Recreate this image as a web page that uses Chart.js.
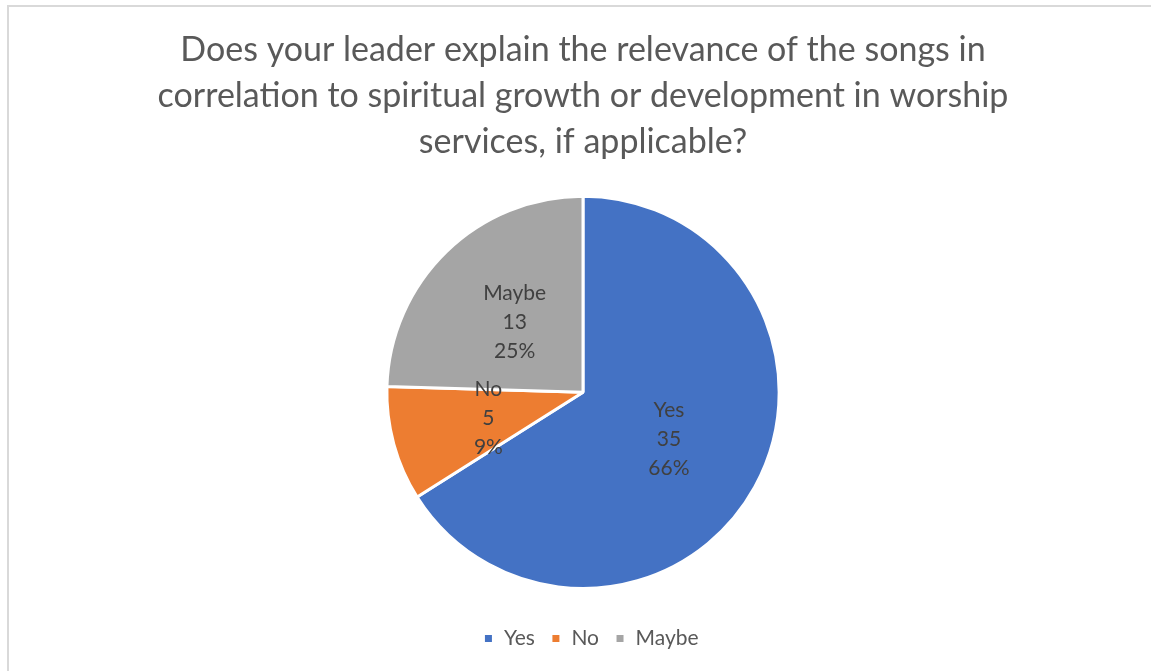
<!DOCTYPE html>
<html>
<head>
<meta charset="utf-8">
<script src="https://cdn.jsdelivr.net/npm/chart.js@4"></script>
<style>
  html, body { margin: 0; padding: 0; background: #fff; }
  #frame {
    position: absolute; left: 7px; top: 5px; width: 1170px; height: 700px;
    border: 2px solid #d9d9d9; box-sizing: border-box;
  }
  #wrap { position: absolute; left: 0; top: 0; width: 1151px; height: 671px; }
</style>
</head>
<body>
<div id="frame"></div>
<div id="wrap"><canvas id="chart"></canvas></div>
<script>
const titleLines = [
    'Does your leader explain the relevance of the songs in',
    'correlation to spiritual growth or development in worship',
    'services, if applicable?'
]
const answers = ['Yes', 'No', 'Maybe']
const counts = [35, 5, 13]
const percentLabels = ['66%', '9%', '25%']
const sliceColors = ['#4472C4', '#ED7D31', '#A5A5A5']

const FONT = 'Lato, "Open Sans", sans-serif'

// category / value / percent written in the middle of each slice
const sliceLabels = {
    id: 'sliceLabels',
    afterDatasetsDraw(chart) {
        const c = chart.ctx
        const arcs = chart.getDatasetMeta(0).data
        c.save()
        c.font = '21px ' + FONT
        c.fillStyle = '#404040'
        c.textAlign = 'center'
        c.textBaseline = 'middle'
        arcs.forEach((arc, i) => {
            const p = arc.tooltipPosition()
            const lines = [answers[i], String(counts[i]), percentLabels[i]]
            lines.forEach((t, k) => c.fillText(t, p.x, p.y + (k - 1) * 29))
        })
        c.restore()
    }
}

const ctx = document.getElementById('chart').getContext('2d')

const pieChart = new Chart(ctx, {
    type: 'pie',
    data: {
        labels: answers,
        datasets: [{
            data: counts,
            backgroundColor: sliceColors,
            borderColor: '#ffffff',
            borderWidth: 3
        }]
    },
    options: {
        responsive: true,
        maintainAspectRatio: false,
        animation: false,
        layout: { padding: { left: 15, right: 0, top: 0, bottom: 12 } },
        plugins: {
            title: {
                display: true,
                text: titleLines,
                color: '#595959',
                font: { family: FONT, size: 34, weight: 'normal', lineHeight: 1.35 },
                padding: { top: 27, bottom: 30 }
            },
            legend: {
                position: 'bottom',
                // empty legend title only adds room above the legend row
                title: {
                    display: true,
                    text: ' ',
                    font: { size: 10, lineHeight: 1 },
                    padding: { top: 5, bottom: 7 }
                },
                labels: {
                    color: '#595959',
                    font: { family: FONT, size: 21 },
                    boxWidth: 10,
                    boxHeight: 10,
                    padding: 16
                }
            },
            tooltip: { enabled: false }
        }
    },
    plugins: [sliceLabels]
})

// nudge the legend row a little to the right
const legendDraw = pieChart.legend.draw
pieChart.legend.draw = function () {
    ctx.save()
    ctx.translate(8, 0)
    legendDraw.call(this)
    ctx.restore()
}
pieChart.draw()
</script>
</body>
</html>
